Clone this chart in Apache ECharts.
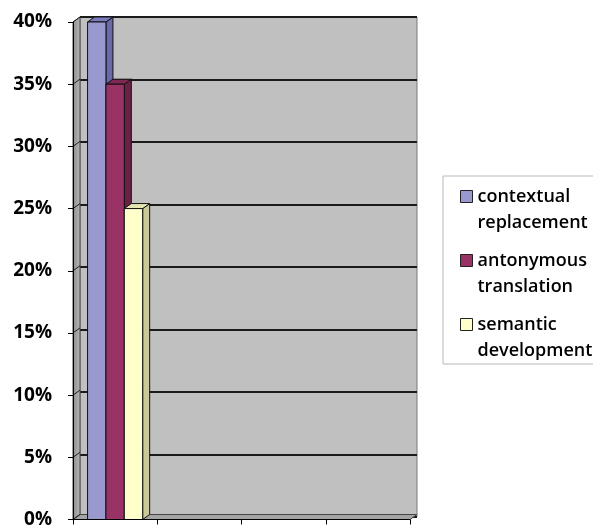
<!DOCTYPE html>
<html><head><meta charset="utf-8">
<script src="https://cdn.jsdelivr.net/npm/echarts@6/dist/echarts.min.js"></script>
<style>html,body{margin:0;padding:0;background:#fff}#c{width:593px;height:529px}</style>
</head><body><div id="c"></div>
<script>
// ---- data ----
const categories = ['', '', '', ''];
const seriesNames = ['contextual replacement', 'antonymous translation', 'semantic development'];
const contextualValues = [0.40];
const antonymousValues = [0.35];
const semanticValues = [0.25];
const yMin = 0, yMax = 0.40, yInterval = 0.05;

// ---- style ----
const DX = 7, DY = 5;
const frontColors = ['#9999cf', '#993366', '#ffffcc'];
const sideColors = ['#6a6aa8', '#6a2145', '#c9c99a'];
const topColors = ['#7b7bbf', '#7e2852', '#e6e6b4'];
const FONT = 'Open Sans';

function barRender(idx) {
  return function (params, api) {
    const cat = api.value(0), val = api.value(1);
    const top = api.coord([cat, val]);
    const base = api.coord([cat, 0]);
    const band = api.size([1, 0])[0];
    const bw = band * 0.654 / 3;
    const x0 = top[0] - 1.5 * bw + idx * bw;
    const x1 = x0 + bw;
    const st = { stroke: '#111', lineWidth: 1, lineJoin: 'round' };
    return {
      type: 'group',
      children: [
        { type: 'polygon', shape: { points: [[x1, top[1]], [x1 + DX, top[1] - DY], [x1 + DX, base[1] - DY], [x1, base[1]]] },
          style: Object.assign({ fill: sideColors[idx] }, st) },
        { type: 'polygon', shape: { points: [[x0, top[1]], [x0 + DX, top[1] - DY], [x1 + DX, top[1] - DY], [x1, top[1]]] },
          style: Object.assign({ fill: topColors[idx] }, st) },
        { type: 'rect', shape: { x: x0, y: top[1], width: bw, height: base[1] - top[1] },
          style: Object.assign({ fill: frontColors[idx] }, st) }
      ]
    };
  };
}

function wallRender(params, api) {
  const cs = params.coordSys;
  const x = cs.x, y = cs.y, w = cs.width, h = cs.height;
  const children = [
    { type: 'polygon', shape: { points: [[x, y + h], [x, y], [x + DX, y - DY], [x + DX, y + h - DY]] },
      style: { fill: new echarts.graphic.LinearGradient(0, 0, 1, 0, [{ offset: 0, color: '#8c8c8c' }, { offset: 1, color: '#b8b8b8' }]), stroke: '#444', lineWidth: 1 } },
    { type: 'polygon', shape: { points: [[x, y + h], [x + DX, y + h - DY], [x + w + DX, y + h - DY], [x + w, y + h]] },
      style: { fill: '#a4a4a4', stroke: '#444', lineWidth: 1 } }
  ];
  for (let v = yMin; v <= yMax + 1e-9; v += yInterval) {
    const yy = api.coord([0, v])[1];
    children.push({ type: 'line', shape: { x1: x, y1: yy, x2: x + DX, y2: yy - DY }, style: { stroke: '#222', lineWidth: 1 } });
  }
  return { type: 'group', children: children };
}

const valueSets = [contextualValues, antonymousValues, semanticValues];
const series = [{
  type: 'custom', name: '_walls', xAxisIndex: 0, yAxisIndex: 0, silent: true,
  renderItem: wallRender, data: [[0, 0]], z: 1
}];
valueSets.forEach((vals, i) => {
  series.push({
    type: 'custom', name: seriesNames[i], xAxisIndex: 0, yAxisIndex: 0,
    itemStyle: { color: frontColors[i] },
    renderItem: barRender(i),
    data: vals.map((v, k) => [k, v]), z: 2 + i
  });
});

const legendIcon = 'path://M0,0L0.01,0M0,7L12,7L12,19L0,19Z M0,52L0.01,52';

const option = {
  animation: false,
  backgroundColor: '#fff',
  grid: [
    { left: 73, right: 183, top: 22, bottom: 7 },
    { left: 80, right: 176, top: 17, bottom: 12, show: true, backgroundColor: '#c0c0c0', borderColor: '#7a7a7a', borderWidth: 1 }
  ],
  xAxis: [
    { type: 'category', gridIndex: 0, data: categories, boundaryGap: true,
      axisLine: { show: true, lineStyle: { color: '#000', width: 1 } },
      axisTick: { show: true, length: 5, lineStyle: { color: '#000' } },
      axisLabel: { show: false }, splitLine: { show: false }, z: 10 },
    { type: 'category', gridIndex: 1, data: categories,
      axisLine: { show: false }, axisTick: { show: false }, axisLabel: { show: false }, splitLine: { show: false } }
  ],
  yAxis: [
    { type: 'value', gridIndex: 0, min: yMin, max: yMax, interval: yInterval,
      axisLine: { show: true, lineStyle: { color: '#000', width: 1 } },
      axisTick: { show: true, length: 5, lineStyle: { color: '#000' } },
      splitLine: { show: false },
      axisLabel: { margin: 21, color: '#000', fontFamily: FONT, fontSize: 19, fontWeight: 'bold',
        formatter: v => Math.round(v * 100) + '%' }, z: 10 },
    { type: 'value', gridIndex: 1, min: yMin, max: yMax, interval: yInterval,
      axisLine: { show: false }, axisTick: { show: false }, axisLabel: { show: false },
      splitLine: { show: true, lineStyle: { color: '#1a1a1a', width: 2 } } }
  ],
  legend: {
    orient: 'vertical', left: 443, top: 176,
    data: seriesNames,
    icon: legendIcon, itemWidth: 12, itemHeight: 52, itemGap: 11,
    padding: [7, 3, 0, 17],
    backgroundColor: '#fff', borderColor: '#b8b8b8', borderWidth: 1, borderRadius: 0,
    itemStyle: { borderColor: '#222', borderWidth: 1 },
    formatter: name => name.replace(' ', '\n'),
    textStyle: { fontFamily: FONT, fontSize: 18, fontWeight: 600, lineHeight: 26, color: '#000' }
  },
  series: series
};

const chart = echarts.init(document.getElementById('c'), null, { renderer: 'canvas' });
chart.setOption(option);
</script>
</body></html>
